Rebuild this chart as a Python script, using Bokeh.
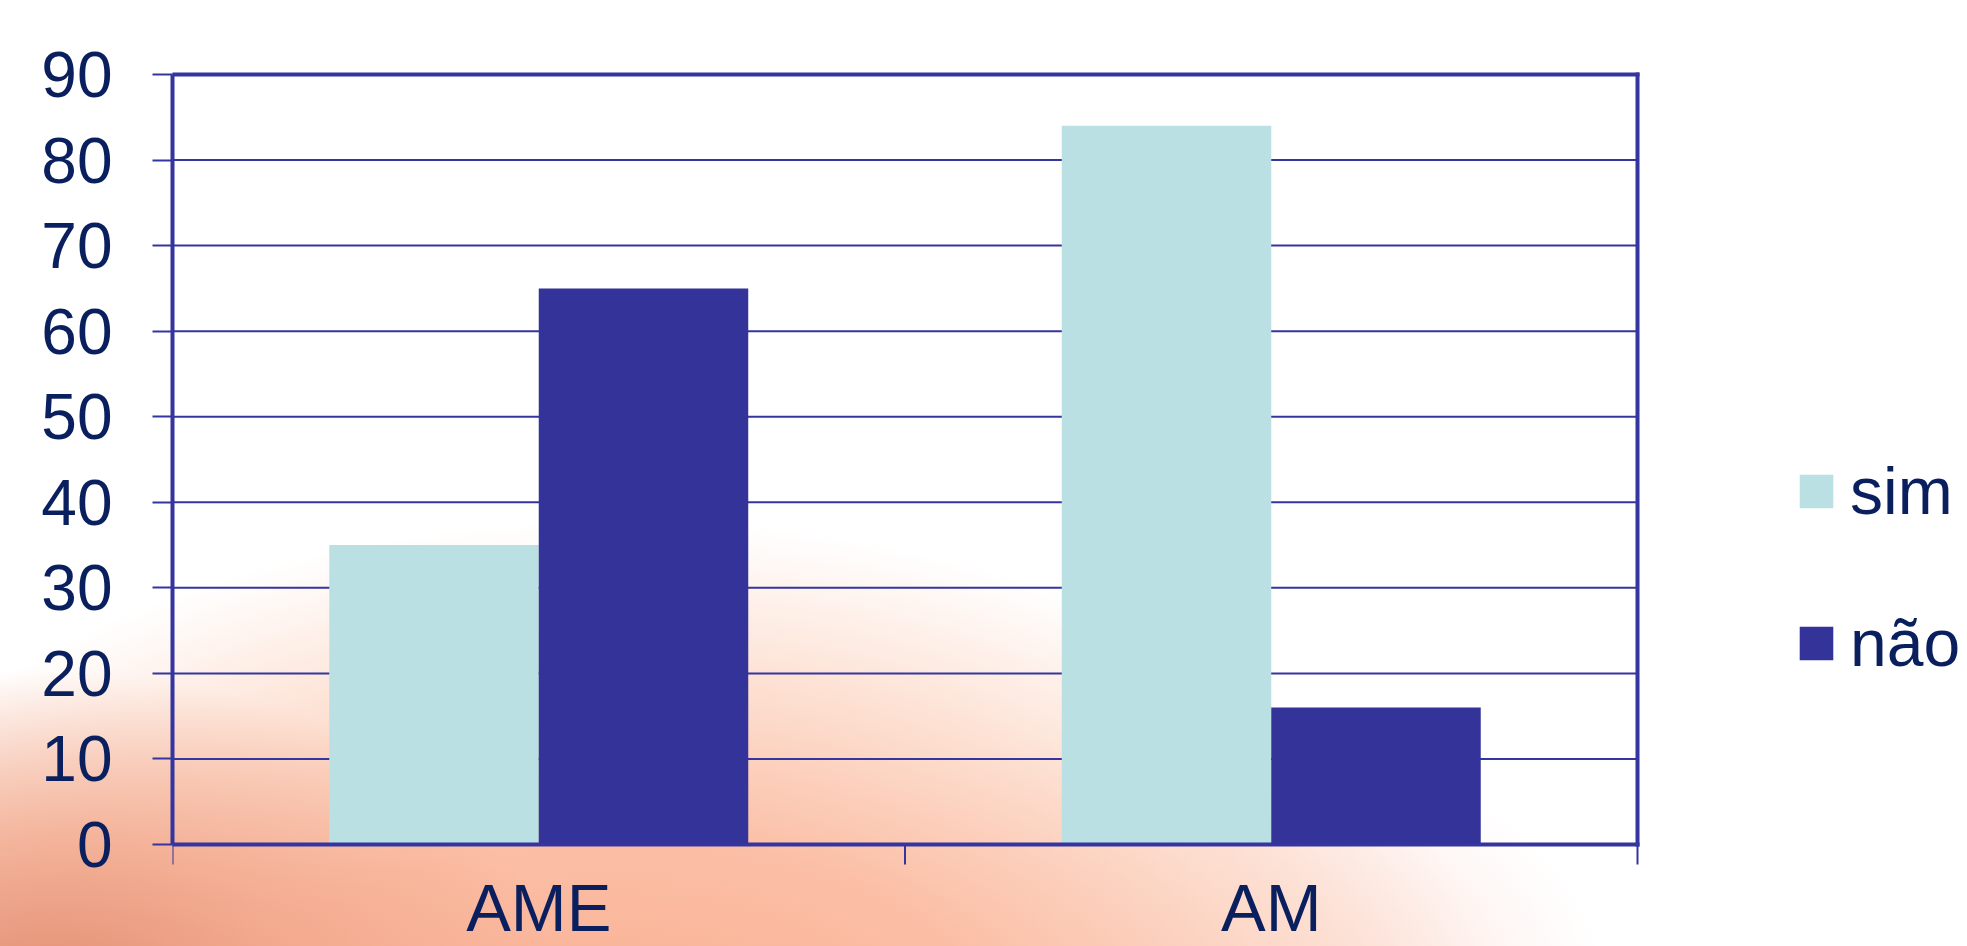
import math
from bokeh.plotting import figure
from bokeh.models import FixedTicker, Legend, LegendItem, ColumnDataSource, Range1d
from bokeh.core.properties import value
from bokeh.embed import file_html
from bokeh.resources import INLINE

# ---- data ----
categories = ["AME", "AM"]
series = ["sim", "não"]
sim = [35, 84]
nao = [65, 16]
y_ticks = [0, 10, 20, 30, 40, 50, 60, 70, 80, 90]

FONT = "Liberation Sans"
TXT = "#0a1f5e"
LINE = "#3535a0"
C_SIM = "#bbe0e3"
C_NAO = "#333399"

W, H = 1967, 946
# plot box in screen pixels
BOX_L, BOX_R, BOX_T, BOX_B = 172, 1637, 74, 844

n = len(categories)
ymax = y_ticks[-1]
# the frame spans the whole page right of the y axis, so the legend and the
# category labels can sit outside the plot box without being clipped
px_x = n / (BOX_R - BOX_L)
px_y = ymax / (BOX_B - BOX_T)
x_end = (W - BOX_L) * px_x
y_start = -(H - BOX_B) * px_y
y_end = ymax + BOX_T * px_y

bw = 0.286
idx = list(range(n))
centers = [i + 0.5 for i in idx]
src = ColumnDataSource(dict(
    x_sim=[c - bw / 2 for c in centers],
    x_nao=[c + bw / 2 for c in centers],
    sim=sim,
    nao=nao,
))

p = figure(width=W, height=H, output_backend="svg", toolbar_location=None,
           x_range=Range1d(0, x_end), y_range=Range1d(y_start, y_end),
           x_axis_location=None,
           min_border_left=BOX_L, min_border_right=0, min_border_top=0, min_border_bottom=0)

p.styles = {"background": (
    "radial-gradient(ellipse 520px 330px at 40px 1000px, rgba(226,140,112,1) 0%, rgba(240,160,130,0.7) 50%, rgba(255,255,255,0) 100%),"
    "radial-gradient(ellipse 900px 570px at 620px 1090px, rgba(248,170,140,1) 0%, rgba(251,188,162,0.95) 45%, rgba(252,212,192,0.65) 75%, rgba(255,255,255,0) 100%),"
    "radial-gradient(ellipse 440px 280px at 1170px 1000px, rgba(250,200,185,0.75) 0%, rgba(255,255,255,0) 100%),"
    "#ffffff")}
p.background_fill_alpha = 0
p.border_fill_alpha = 0
p.outline_line_color = None
p.xgrid.grid_line_color = None
p.ygrid.grid_line_color = None

# horizontal grid lines across the plot box
p.segment(x0=[0] * len(y_ticks), x1=[n] * len(y_ticks), y0=y_ticks, y1=y_ticks,
          line_color=LINE, line_width=2)

r1 = p.vbar(x="x_sim", top="sim", width=bw, bottom=0, source=src, fill_color=C_SIM, line_color=None)
r2 = p.vbar(x="x_nao", top="nao", width=bw, bottom=0, source=src, fill_color=C_NAO, line_color=None)

# plot box: top, right, bottom (category axis line)
p.multi_line(xs=[[0, n], [n, n], [0, n]], ys=[[ymax, ymax], [0, ymax], [0, 0]],
             line_color=LINE, line_width=4, line_cap="square")
# category boundary ticks pointing down
p.ray(x=[float(i) for i in range(n + 1)], y=[0] * (n + 1), length=20, length_units="screen",
      angle=-math.pi / 2, line_color=LINE, line_width=2)
# category labels
p.text(x=centers, y=[0] * n, text=categories, y_offset=63,
       text_align="center", text_baseline="alphabetic",
       text_font=value(FONT), text_font_size="67px", text_color=TXT)

# y axis
ya = p.yaxis[0]
ya.ticker = FixedTicker(ticks=y_ticks)
ya.bounds = (0, ymax)
ya.axis_line_color = LINE
ya.axis_line_width = 4
ya.major_tick_line_color = LINE
ya.major_tick_line_width = 2
ya.major_tick_in = 0
ya.major_tick_out = 20
ya.minor_tick_line_color = None
ya.major_label_text_font = FONT
ya.major_label_text_font_size = "64px"
ya.major_label_text_color = TXT
ya.major_label_standoff = 40

legend = Legend(items=[LegendItem(label=series[0], renderers=[r1]),
                       LegendItem(label=series[1], renderers=[r2])],
                location=(1795 - BOX_L, H - 681), orientation="vertical")
legend.glyph_width = 42
legend.glyph_height = 42
legend.label_standoff = 13
legend.label_text_font = FONT
legend.label_text_font_size = "66px"
legend.label_text_color = TXT
legend.spacing = 76
legend.padding = 0
legend.margin = 0
legend.border_line_alpha = 0
legend.background_fill_alpha = 0
p.add_layout(legend)

open("out.html", "w").write(file_html(p, INLINE))
